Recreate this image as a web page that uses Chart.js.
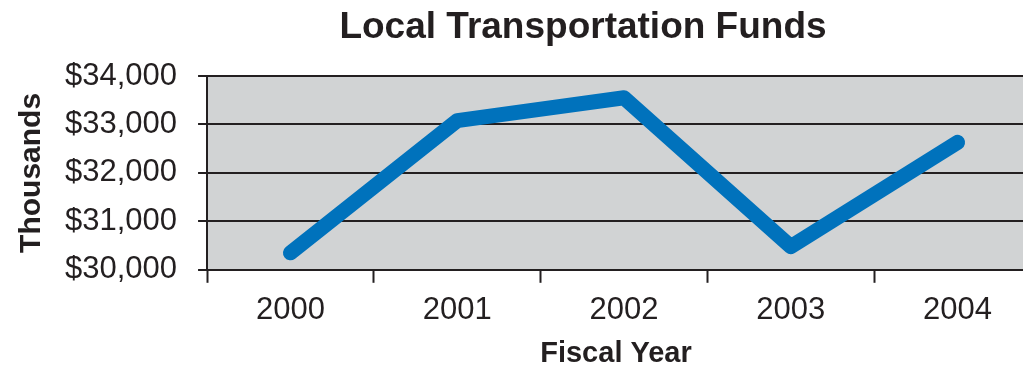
<!DOCTYPE html>
<html>
<head>
<meta charset="utf-8">
<title>Local Transportation Funds</title>
<script src="https://cdn.jsdelivr.net/npm/chart.js@4/dist/chart.umd.min.js"></script>
<style>
	html, body {
		margin: 0;
		padding: 0;
		background: #ffffff;
		overflow: hidden;
	}
	#wrap {
		width: 1060px;
		height: 367px;
	}
</style>
</head>
<body>
<div id="wrap">
	<canvas id="chart" width="1060" height="367"></canvas>
</div>
<script>
// fiscal years and funds (in thousands of dollars)
var years = ["2000", "2001", "2002", "2003", "2004"];
var funds = [30350, 33080, 33550, 30480, 32630];
var yMin = 30000;
var yMax = 34000;
var yStep = 1000;

var ink = "#231f20";
var fontFamily = "'Liberation Sans', Arial, Helvetica, sans-serif";

// grey fill behind the plot, plus the chart title and the x axis title
var plotBackground = {
	id: "plotBackground",
	beforeDraw: function(chart) {
		var a = chart.chartArea;
		var ctx = chart.ctx;
		ctx.save();
		ctx.fillStyle = "#d1d3d4";
		ctx.fillRect(a.left, a.top, a.right - a.left, a.bottom - a.top);
		ctx.restore();
	},
	afterDraw: function(chart) {
		var ctx = chart.ctx;
		ctx.save();
		ctx.fillStyle = ink;
		ctx.textAlign = "center";
		ctx.textBaseline = "alphabetic";
		ctx.font = "bold 37px " + fontFamily;
		ctx.fillText("Local Transportation Funds", 583, 38);
		ctx.font = "bold 29px " + fontFamily;
		ctx.fillText("Fiscal Year", 616, 362);
		ctx.restore();
	}
};

new Chart(document.getElementById("chart").getContext("2d"), {
	type: "line",
	data: {
		labels: years,
		datasets: [{
			label: "Funds",
			data: funds,
			borderColor: "#0072bc",
			borderWidth: 15,
			borderCapStyle: "round",
			borderJoinStyle: "round",
			pointRadius: 0,
			pointHoverRadius: 0,
			tension: 0,
			fill: false
		}]
	},
	options: {
		responsive: false,
		animation: false,
		layout: {
			padding: { top: 76, right: 19, bottom: 29, left: 14 }
		},
		plugins: {
			legend: { display: false },
			tooltip: { enabled: false },
			title: { display: false }
		},
		scales: {
			x: {
				type: "category",
				offset: true,
				grid: {
					offset: true,
					drawOnChartArea: false,
					drawTicks: true,
					tickLength: 13,
					tickWidth: 2,
					tickColor: ink
				},
				border: { display: true, color: ink, width: 2 },
				ticks: {
					color: ink,
					padding: 9,
					font: { family: fontFamily, size: 31 }
				}
			},
			y: {
				min: yMin,
				max: yMax,
				grid: {
					color: ink,
					lineWidth: 2,
					tickLength: 9,
					drawTicks: true
				},
				border: { display: true, color: ink, width: 2 },
				ticks: {
					stepSize: yStep,
					color: ink,
					padding: 21,
					font: { family: fontFamily, size: 31 },
					callback: function(v) {
						return "$" + Number(v).toLocaleString("en-US");
					}
				},
				title: {
					display: true,
					text: "Thousands",
					color: ink,
					padding: { top: 0, bottom: -6 },
					font: { family: fontFamily, size: 30, weight: "bold" }
				}
			}
		}
	},
	plugins: [plotBackground]
});
</script>
</body>
</html>
